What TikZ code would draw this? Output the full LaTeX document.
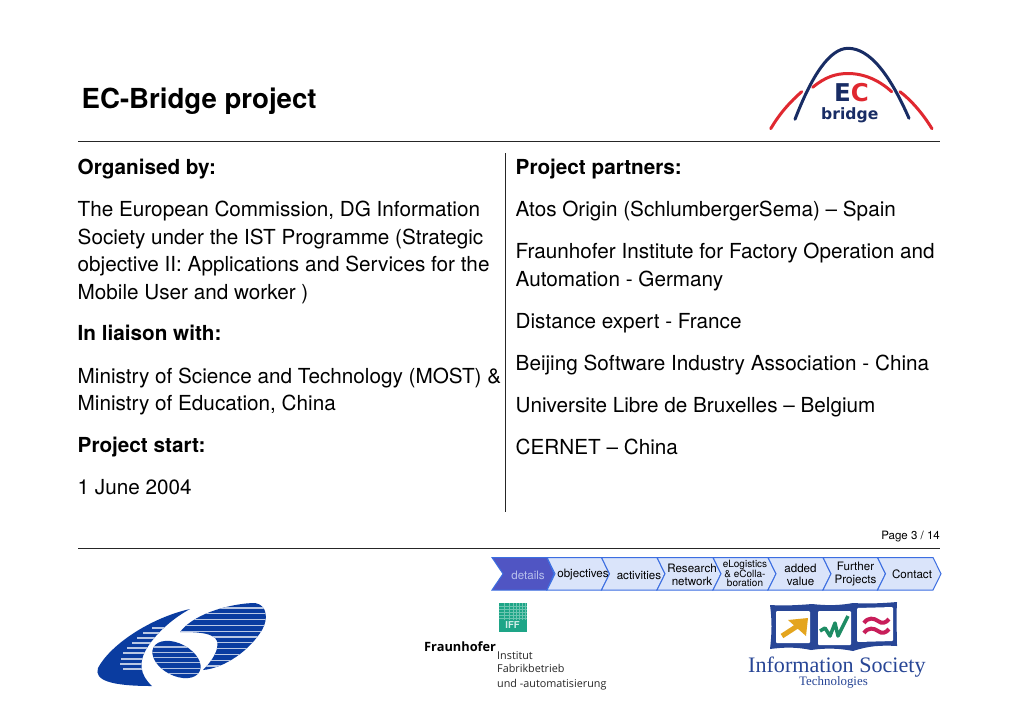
\documentclass[tikz,border=0pt]{standalone}
\usepackage{fontspec}
\setmainfont{TeX Gyre Heros}
\newfontfamily\lgserif{Liberation Serif}
\newfontfamily\lgdeja{DejaVu Sans}
\newfontfamily\lgopen{Open Sans}
\definecolor{navyec}{RGB}{24,44,100}
\definecolor{redec}{RGB}{224,40,48}
\definecolor{eublue}{RGB}{10,60,160}
\definecolor{chevfill}{RGB}{218,228,250}
\definecolor{chevline}{RGB}{60,110,225}
\definecolor{chevdark}{RGB}{80,85,195}
\definecolor{iffgreen}{RGB}{30,165,135}
\definecolor{istblue}{RGB}{40,70,150}
\definecolor{istorange}{RGB}{228,165,30}
\definecolor{istgreen}{RGB}{30,140,100}
\definecolor{istred}{RGB}{200,30,90}
\tikzset{
  x=1pt,y=-1pt,
  body/.style={anchor=base west,inner sep=0pt,font=\fontsize{20.7}{24}\selectfont},
  head/.style={body,font=\fontsize{20.7}{24}\selectfont\bfseries},
  rulepath/.style={draw=black!85,line width=0.9pt},
  chev/.style={draw=chevline,fill=chevfill,line width=1pt,line join=miter},
  chevon/.style={draw=chevline,fill=chevdark,line width=1pt},
  chevtext/.style={align=center,inner sep=0pt,font=\fontsize{11.6}{13}\selectfont},
  chevsmall/.style={align=center,inner sep=0pt,font=\fontsize{10}{9}\selectfont},
  ecarc/.style={line width=3pt,line cap=round},
  logotext/.style={anchor=base west,inner sep=0pt},
}
\begin{document}
\begin{tikzpicture}
\useasboundingbox (0,0) rectangle (1024,724);
\fill[white] (0,0) rectangle (1024,724);
% title and rules
\node[anchor=base west,inner sep=0pt,font=\fontsize{27.6}{30}\selectfont\bfseries] (title) at (81.5,108) {EC-Bridge project};
\coordinate (r1a) at (78,141); \coordinate (r1b) at (940,141);
\coordinate (r2a) at (78,548); \coordinate (r2b) at (940,548);
\coordinate (v1) at (505.5,153); \coordinate (v2) at (505.5,512);
\draw[rulepath] (r1a) -- (r1b);
\draw[rulepath] (r2a) -- (r2b);
\draw[rulepath] (v1) -- (v2);
% left column
\node[head] (l1) at (77.5,174) {Organised by:};
\node[body] (l2) at (77.5,216) {The European Commission, DG Information};
\node[body] (l3) at (77.5,244) {Society under the IST Programme (Strategic};
\node[body] (l4) at (77.5,271) {objective II: Applications and Services for the};
\node[body] (l5) at (77.5,299) {Mobile User and worker )};
\node[head] (l6) at (77.5,340) {In liaison with:};
\node[body] (l7) at (77.5,383) {Ministry of Science and Technology (MOST) \&};
\node[body] (l8) at (77.5,410) {Ministry of Education, China};
\node[head] (l9) at (77.5,452) {Project start:};
\node[body] (l10) at (77.5,494) {1 June 2004};
% right column
\node[head] (r1) at (515.5,174) {Project partners:};
\node[body] (r2) at (515.5,216) {Atos Origin (SchlumbergerSema) – Spain};
\node[body] (r3) at (515.5,258) {Fraunhofer Institute for Factory Operation and};
\node[body] (r4) at (515.5,286) {Automation - Germany};
\node[body] (r5) at (515.5,328) {Distance expert - France};
\node[body] (r6) at (515.5,370) {Beijing Software Industry Association - China};
\node[body] (r7) at (515.5,412) {Universite Libre de Bruxelles – Belgium};
\node[body] (r8) at (515.5,454) {CERNET – China};
\node[anchor=base east,inner sep=0pt,font=\fontsize{11.5}{13}\selectfont] (page) at (940,539) {Page 3 / 14};
% chevrons
\newcommand{\chevron}[3]{% left corner, right corner, style
  \path[#3] (#1,557.5) -- (#2,557.5) -- (#2+8,573.8) -- (#2,590) -- (#1,590) -- (#1+8,573.8) -- cycle;}
\path[chevon] (492,557.5) -- (547,557.5) -- (554,573.8) -- (547,590) -- (492,590) -- (503,573.8) -- cycle;
\chevron{547}{601.5}{chev}
\chevron{601.5}{657}{chev}
\chevron{657}{713}{chev}
\chevron{713}{768}{chev}
\chevron{768}{823}{chev}
\chevron{823}{877.5}{chev}
\chevron{877.5}{933}{chev}
\node[chevtext,text=chevfill!75!chevdark] (c1) at (528,575) {details};
\node[chevtext] (c2) at (583,575) {objectives};
\node[chevtext] (c3) at (639,575) {activities};
\node[chevtext] (c4) at (692,574.5) {Research\\network};
\node[chevsmall] (c5) at (745,573.5) {eLogistics\\\& eColla-\\boration};
\node[chevtext] (c6) at (800.5,574.5) {added\\value};
\node[chevtext] (c7) at (855.5,574.5) {Further\\Projects};
\node[chevtext] (c8) at (912,574.5) {Contact};
% EC bridge logo
\draw[ecarc,redec] (770.7,128.7) .. controls (780,113) and (790,102) .. (801.7,91.7);
\draw[ecarc,redec] (812.7,87.3) .. controls (825,77) and (836,73.5) .. (848,73.5) .. controls (865,73.5) and (880,81) .. (891.7,91.7);
\draw[ecarc,redec] (900,91.7) .. controls (912,101) and (923,114) .. (932,128.7);
\draw[ecarc,navyec] (795,119.3) .. controls (812,75) and (830,48.3) .. (848,48.3) .. controls (870,48.3) and (890,75) .. (909,118.3);
\node[logotext,font=\fontsize{24.5}{24}\selectfont\lgdeja\bfseries] (ec) at (834,101.5) {\textcolor{navyec}{E}\textcolor{redec}{C}};
\node[logotext,font=\fontsize{15.6}{16}\selectfont\lgdeja\bfseries,text=navyec] (br) at (821,119.5) {bridge};
% EU 6 logo
\begin{scope}
  \def\bladeL{(190,609) .. controls (150,618) and (110,645) .. (98,668) .. controls (94,680) and (110,686) .. (152,686) .. controls (140,675) and (138,662) .. (147,648) .. controls (155,635) and (170,620) .. (190,609) -- cycle}
  \fill[eublue] \bladeL;
  \begin{scope}
    \clip \bladeL;
    \foreach \yy/\xx in {628/152,633/143,638/137,643/132,648/127,653/123,659/121,664/120,669/123} {
      \draw[white!72!eublue,line width=1.2pt] (\xx,\yy) -- (175,\yy);
    }
  \end{scope}
  \def\bladeR{(180,632) .. controls (195,612) and (235,603) .. (255,603) .. controls (268,605) and (268,620) .. (262,630) .. controls (250,650) and (225,668) .. (203,670) .. controls (218,655) and (222,640) .. (212,636) .. controls (205,632) and (190,632) .. (180,632) -- cycle}
  \fill[eublue] \bladeR;
  \begin{scope}
    \clip \bladeR;
    \foreach \yy in {608,613.8,619.6,625.4,631.2,637,642.8,648.6,654.4,660.2,666} {
      \draw[white!72!eublue,line width=1.3pt] (170,\yy) -- (275,\yy);
    }
  \end{scope}
  \fill[eublue,rotate around={-28:(176.5,659.5)}] (176.5,659.5) ellipse [x radius=26,y radius=16];
  \begin{scope}
    \clip[rotate around={-28:(176.5,659.5)}] (176.5,659.5) ellipse [x radius=26,y radius=16];
    \foreach \yy in {647,652.3,657.6,662.9,668.2,673.5,678.8} {
      \draw[white!68!eublue,line width=1.1pt] (140,\yy) -- (210,\yy);
    }
  \end{scope}
\end{scope}
% Fraunhofer logo
\fill[iffgreen] (498.5,603) rectangle (527,632);
\foreach \xx in {504,509.5,513,516,519,522,525} {\draw[white!35!iffgreen,line width=0.5pt] (\xx,603) -- (\xx,620);}
\foreach \yy in {606,609,612,615,618.5} {\draw[white!35!iffgreen,line width=0.5pt] (498.5,\yy) -- (527,\yy);}
\node[inner sep=0pt,text=white!80!iffgreen,font=\fontsize{9.5}{10}\selectfont\bfseries] (iff) at (512.5,625.5) {IFF};
\node[logotext,font=\fontsize{12.8}{14}\selectfont\lgopen\bfseries] (fh) at (424,651) {Fraunhofer};
\node[logotext,font=\fontsize{10.8}{12}\selectfont\lgopen,text=black!85] (f1) at (497,659) {Institut};
\node[logotext,font=\fontsize{10.8}{12}\selectfont\lgopen,text=black!85] (f2) at (497,672) {Fabrikbetrieb};
\node[logotext,font=\fontsize{10.8}{12}\selectfont\lgopen,text=black!85] (f3) at (497,687) {und -automatisierung};
% IST logo
\fill[istblue,line join=round] (770,605) .. controls (785,606) and (800,605) .. (812,604) .. controls (830,606) and (842,605) .. (853,603) .. controls (870,604) and (885,603) .. (897,602) .. controls (896,620) and (897,635) .. (897,646) .. controls (880,645) and (868,646) .. (853,651) .. controls (838,648) and (825,648) .. (811,650) .. controls (797,647) and (785,647) .. (770,649) .. controls (772,632) and (772,620) .. (770,605) -- cycle;
\fill[white,rounded corners=1pt] (776,611) -- (810,611) -- (810,643) -- (776,643) -- cycle;
\fill[white,rounded corners=1pt] (818,611) -- (851,611) -- (851,645) -- (818,645) -- cycle;
\fill[white,rounded corners=1pt] (857,608) -- (893,607) -- (893,641) -- (857,642) -- cycle;
\draw[istorange,line width=5pt] (782,636) -- (802,623);
\fill[istorange] (788,620) -- (808,618) -- (806,636) -- cycle;
\draw[istgreen,line width=3.5pt,line join=round] (820,631) -- (825,628) -- (830,636) -- (835,623) -- (838,636) -- (848,616);
\draw[istred,line width=4pt] (864,623) .. controls (868,617) and (874,618) .. (878,621) .. controls (882,624) and (886,623) .. (889,619);
\draw[istred,line width=4pt] (864,633) .. controls (868,627) and (874,628) .. (878,631) .. controls (882,634) and (886,633) .. (889,629);
\node[logotext,font=\fontsize{22.1}{24}\selectfont\lgserif,text=istblue] (is) at (748,672) {Information Society};
\node[logotext,font=\fontsize{12.9}{14}\selectfont\lgserif,text=istblue] (tech) at (799,685) {Technologies};
\end{tikzpicture}
\end{document}
